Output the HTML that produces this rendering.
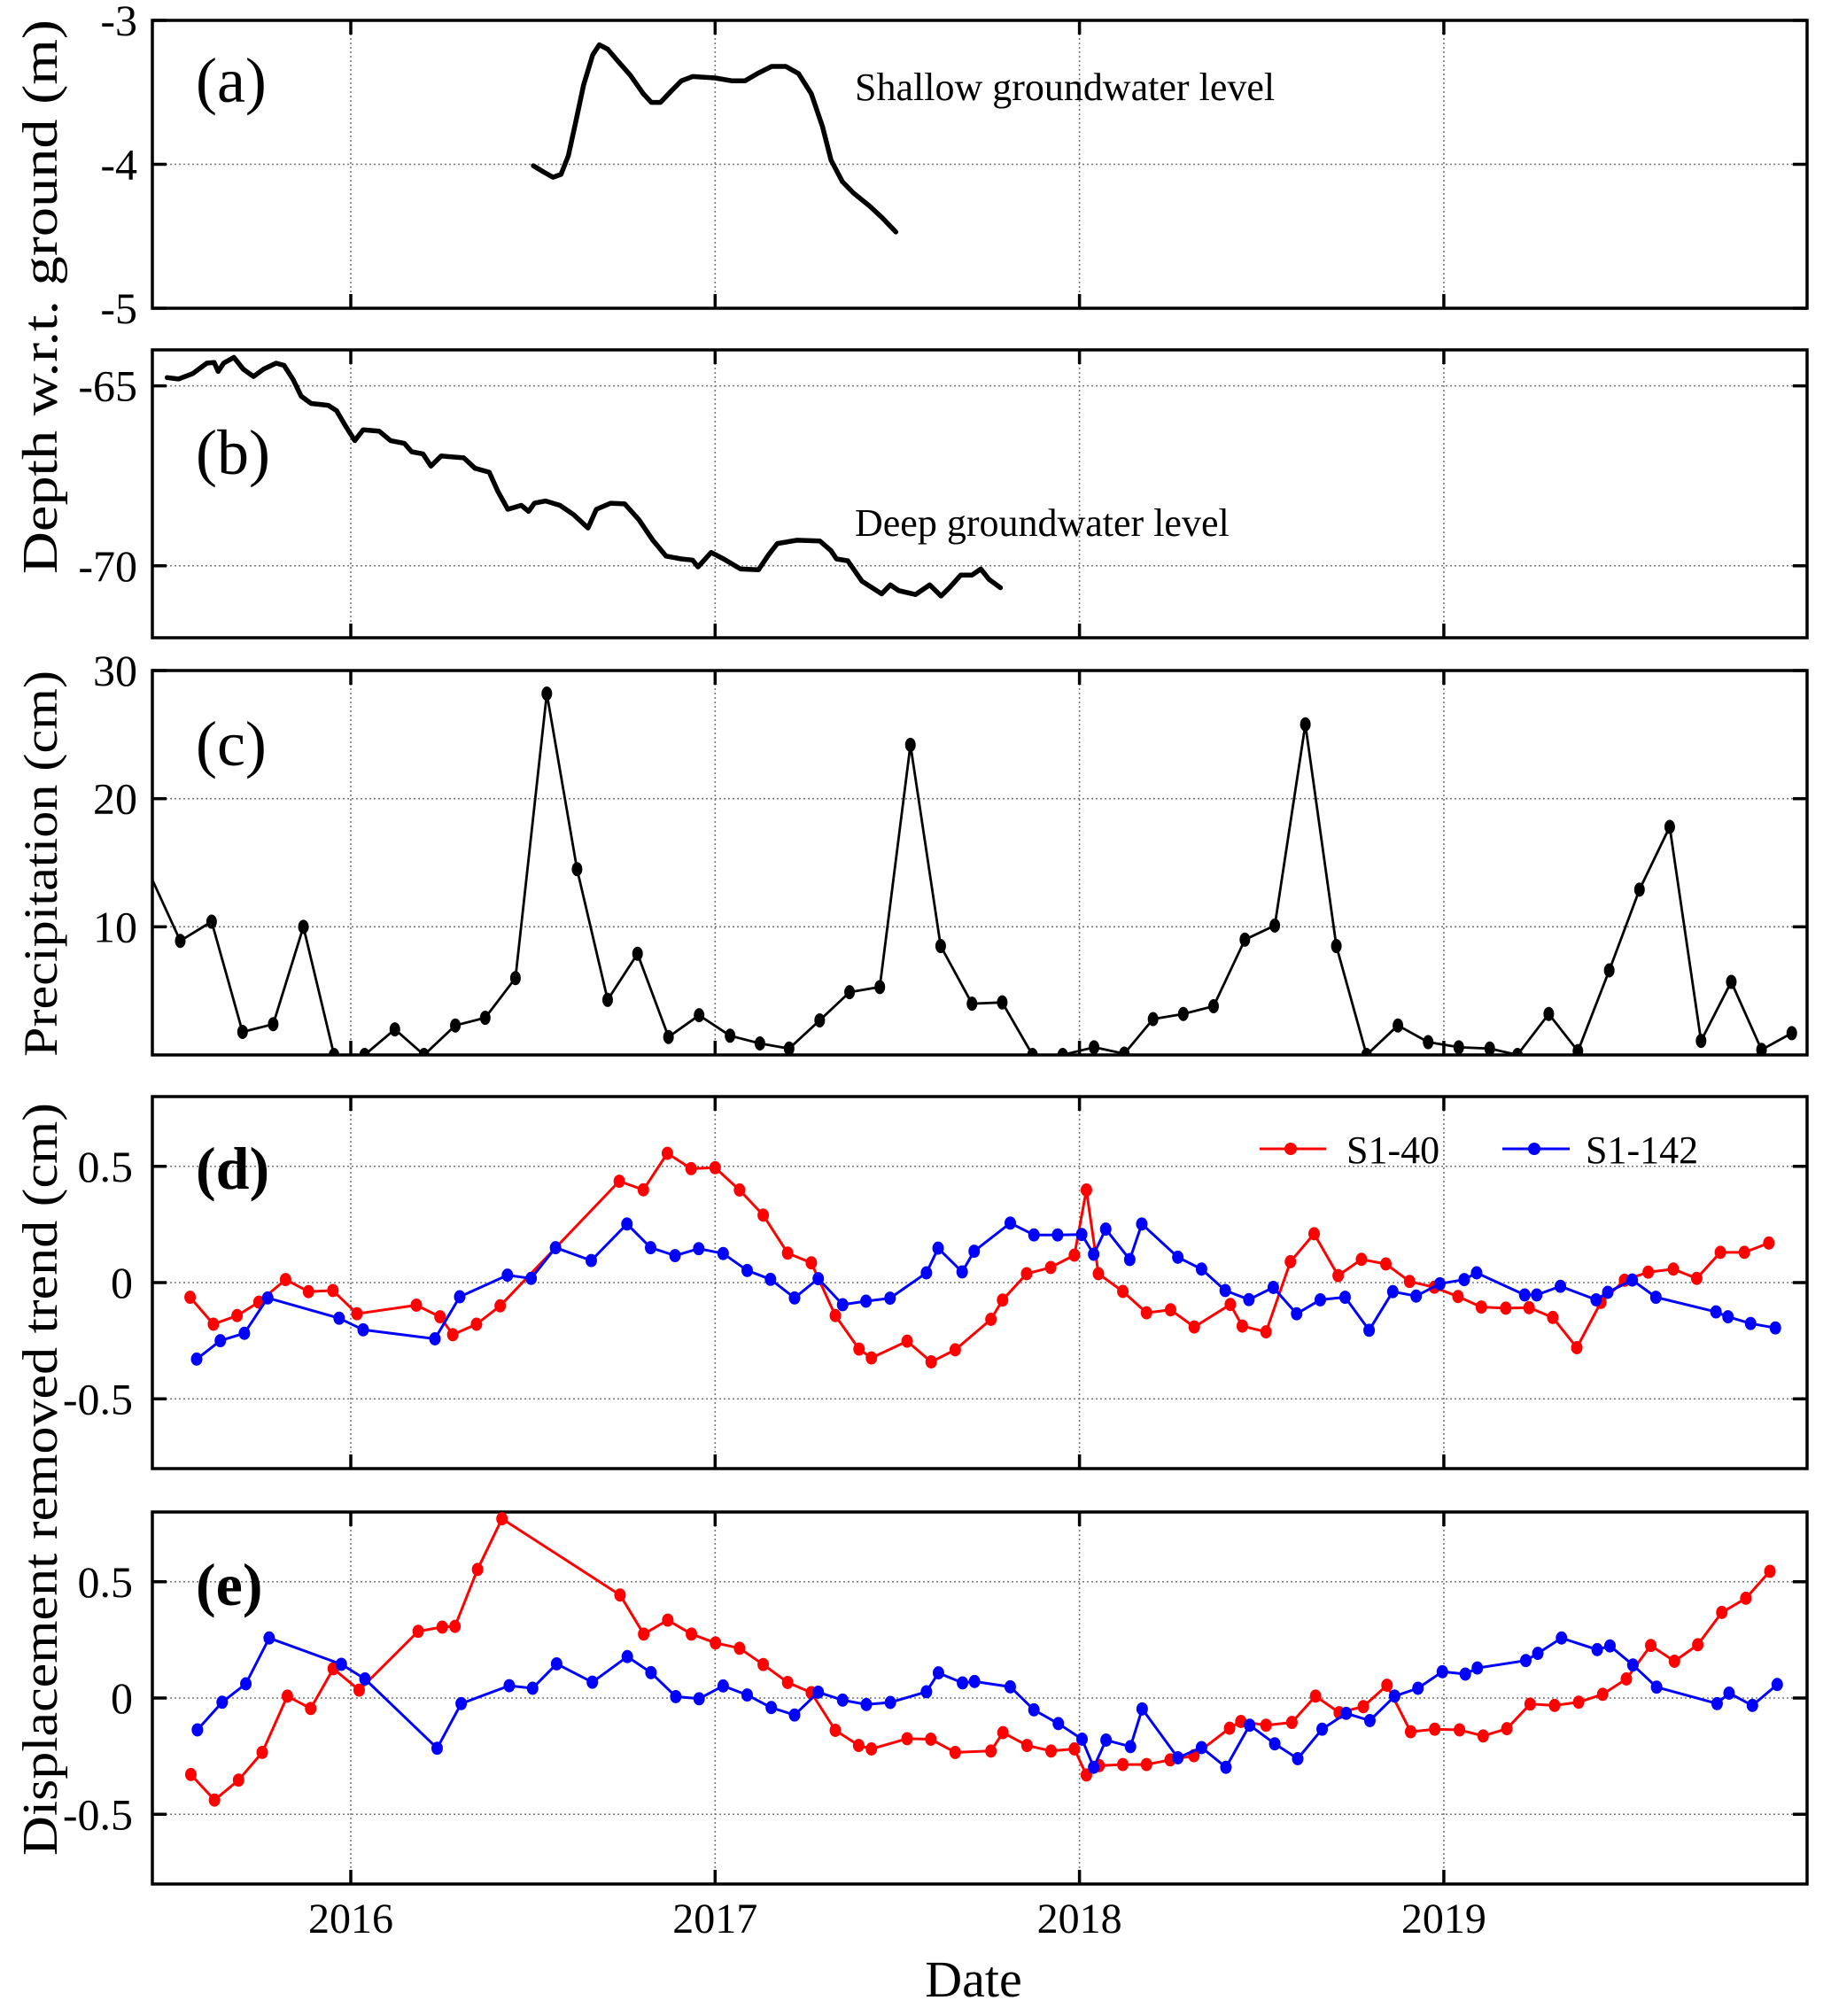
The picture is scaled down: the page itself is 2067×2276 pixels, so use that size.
<!DOCTYPE html>
<html><head><meta charset="utf-8"><style>
html,body{margin:0;padding:0;background:#fff}
svg{display:block}
text{font-family:"Liberation Serif",serif;fill:#000}
</style></head><body>
<svg id="fig" width="2067" height="2276" viewBox="0 0 2067 2276" xmlns="http://www.w3.org/2000/svg"></svg>
<script>
// ---------- data ----------
const shallowDates=[2016.501,2016.527,2016.555,2016.577,2016.597,2016.617,2016.639,2016.664,2016.682,2016.705,2016.732,2016.767,2016.803,2016.825,2016.850,2016.876,2016.907,2016.938,2017.000,2017.047,2017.082,2017.116,2017.155,2017.194,2017.229,2017.264,2017.295,2017.318,2017.349,2017.380,2017.424,2017.458,2017.496];
const shallowLevel=[-4.01,-4.05,-4.09,-4.07,-3.94,-3.71,-3.45,-3.24,-3.17,-3.20,-3.28,-3.38,-3.51,-3.57,-3.57,-3.50,-3.42,-3.39,-3.40,-3.42,-3.42,-3.37,-3.32,-3.32,-3.37,-3.51,-3.74,-3.97,-4.12,-4.20,-4.29,-4.37,-4.47];
const deepDates=[2015.496,2015.527,2015.566,2015.605,2015.625,2015.636,2015.651,2015.679,2015.705,2015.733,2015.760,2015.795,2015.817,2015.842,2015.864,2015.891,2015.938,2015.961,2015.984,2016.011,2016.034,2016.078,2016.109,2016.147,2016.167,2016.198,2016.220,2016.248,2016.310,2016.341,2016.380,2016.403,2016.431,2016.468,2016.488,2016.504,2016.535,2016.574,2016.612,2016.651,2016.674,2016.713,2016.752,2016.791,2016.829,2016.865,2016.907,2016.938,2016.953,2016.989,2017.023,2017.070,2017.119,2017.147,2017.171,2017.225,2017.287,2017.318,2017.333,2017.364,2017.403,2017.457,2017.481,2017.504,2017.550,2017.589,2017.620,2017.643,2017.674,2017.705,2017.729,2017.752,2017.783];
const deepLevel=[-64.77,-64.81,-64.66,-64.37,-64.35,-64.60,-64.37,-64.21,-64.54,-64.74,-64.54,-64.37,-64.43,-64.83,-65.29,-65.49,-65.54,-65.69,-66.09,-66.52,-66.22,-66.26,-66.52,-66.60,-66.83,-66.89,-67.23,-66.95,-67.00,-67.29,-67.40,-67.92,-68.43,-68.32,-68.49,-68.26,-68.20,-68.32,-68.58,-68.95,-68.43,-68.26,-68.28,-68.72,-69.29,-69.73,-69.81,-69.84,-70.03,-69.63,-69.81,-70.09,-70.11,-69.69,-69.38,-69.29,-69.31,-69.58,-69.81,-69.86,-70.43,-70.78,-70.53,-70.69,-70.80,-70.53,-70.84,-70.61,-70.26,-70.26,-70.09,-70.38,-70.61];
const precipDates=[2015.45,2015.532,2015.618,2015.703,2015.787,2015.870,2015.954,2016.038,2016.121,2016.201,2016.287,2016.369,2016.452,2016.538,2016.621,2016.705,2016.787,2016.872,2016.956,2017.041,2017.123,2017.203,2017.287,2017.369,2017.452,2017.536,2017.619,2017.705,2017.788,2017.871,2017.954,2018.040,2018.123,2018.202,2018.285,2018.368,2018.454,2018.536,2018.620,2018.705,2018.788,2018.874,2018.957,2019.041,2019.126,2019.202,2019.288,2019.368,2019.454,2019.537,2019.620,2019.706,2019.789,2019.872,2019.955];
const precipValues=[14.0,8.9,10.4,1.8,2.4,10.0,0,0,2.0,0,2.3,2.9,6.0,28.2,14.5,4.3,7.9,1.4,3.1,1.5,0.9,0.5,2.7,4.9,5.3,24.2,8.5,4.0,4.1,0,0,0.6,0.1,2.8,3.2,3.8,9.0,10.1,25.8,8.5,0,2.3,1.0,0.6,0.5,0,3.2,0.3,6.6,12.9,17.8,1.1,5.7,0.4,1.7];
const dRedDates=[2015.559,2015.623,2015.688,2015.748,2015.821,2015.884,2015.951,2016.017,2016.180,2016.245,2016.280,2016.345,2016.410,2016.737,2016.803,2016.869,2016.934,2017.000,2017.067,2017.132,2017.199,2017.264,2017.330,2017.395,2017.429,2017.527,2017.593,2017.659,2017.757,2017.789,2017.855,2017.921,2017.986,2018.019,2018.052,2018.119,2018.184,2018.250,2018.315,2018.414,2018.447,2018.512,2018.579,2018.644,2018.710,2018.774,2018.841,2018.906,2018.974,2019.039,2019.103,2019.170,2019.234,2019.299,2019.365,2019.431,2019.496,2019.561,2019.630,2019.694,2019.759,2019.825,2019.892];
const dRedValues=[-0.063,-0.179,-0.142,-0.084,0.013,-0.039,-0.034,-0.134,-0.097,-0.147,-0.224,-0.179,-0.100,0.436,0.399,0.556,0.490,0.494,0.398,0.290,0.127,0.085,-0.142,-0.286,-0.324,-0.252,-0.341,-0.289,-0.158,-0.075,0.038,0.065,0.118,0.398,0.038,-0.038,-0.130,-0.117,-0.191,-0.094,-0.187,-0.212,0.09,0.21,0.03,0.10,0.08,0.005,-0.02,-0.06,-0.105,-0.11,-0.108,-0.15,-0.28,-0.085,0.01,0.045,0.058,0.018,0.13,0.13,0.17];
const dBlueDates=[2015.577,2015.642,2015.708,2015.772,2015.968,2016.034,2016.231,2016.299,2016.430,2016.495,2016.562,2016.660,2016.758,2016.823,2016.890,2016.955,2017.022,2017.088,2017.152,2017.218,2017.283,2017.350,2017.414,2017.480,2017.580,2017.612,2017.678,2017.711,2017.810,2017.875,2017.940,2018.006,2018.039,2018.072,2018.138,2018.171,2018.270,2018.335,2018.400,2018.465,2018.532,2018.596,2018.661,2018.729,2018.795,2018.860,2018.924,2018.989,2019.056,2019.090,2019.222,2019.255,2019.320,2019.418,2019.450,2019.517,2019.582,2019.747,2019.780,2019.842,2019.910];
const dBlueValues=[-0.329,-0.250,-0.218,-0.066,-0.153,-0.203,-0.242,-0.061,0.032,0.018,0.150,0.095,0.252,0.150,0.116,0.146,0.125,0.052,0.014,-0.066,0.017,-0.095,-0.080,-0.067,0.042,0.148,0.046,0.135,0.256,0.205,0.205,0.207,0.122,0.230,0.099,0.252,0.109,0.058,-0.034,-0.073,-0.021,-0.134,-0.074,-0.063,-0.205,-0.039,-0.058,-0.005,0.013,0.042,-0.053,-0.053,-0.016,-0.074,-0.042,0.011,-0.063,-0.126,-0.147,-0.176,-0.195];
const eRedDates=[2015.561,2015.626,2015.692,2015.757,2015.826,2015.890,2015.952,2016.023,2016.185,2016.251,2016.286,2016.348,2016.415,2016.739,2016.804,2016.870,2016.935,2017.001,2017.067,2017.132,2017.199,2017.264,2017.330,2017.394,2017.429,2017.527,2017.592,2017.659,2017.757,2017.790,2017.856,2017.922,2017.986,2018.019,2018.054,2018.119,2018.184,2018.249,2018.314,2018.412,2018.443,2018.512,2018.583,2018.648,2018.713,2018.779,2018.844,2018.909,2018.975,2019.043,2019.108,2019.173,2019.237,2019.304,2019.370,2019.436,2019.501,2019.568,2019.633,2019.697,2019.763,2019.829,2019.895];
const eRedValues=[-0.329,-0.439,-0.353,-0.234,0.008,-0.045,0.126,0.034,0.287,0.305,0.308,0.553,0.771,0.443,0.275,0.335,0.275,0.237,0.214,0.144,0.067,0.023,-0.139,-0.204,-0.219,-0.175,-0.177,-0.234,-0.228,-0.149,-0.204,-0.228,-0.219,-0.331,-0.291,-0.286,-0.286,-0.266,-0.248,-0.130,-0.101,-0.117,-0.105,0.008,-0.063,-0.037,0.055,-0.145,-0.134,-0.137,-0.163,-0.132,-0.026,-0.032,-0.018,0.016,0.082,0.226,0.158,0.229,0.368,0.429,0.545];
const eBlueDates=[2015.579,2015.647,2015.712,2015.776,2015.974,2016.039,2016.237,2016.303,2016.435,2016.499,2016.565,2016.663,2016.759,2016.824,2016.892,2016.956,2017.022,2017.088,2017.154,2017.218,2017.283,2017.350,2017.415,2017.481,2017.580,2017.613,2017.679,2017.712,2017.810,2017.875,2017.942,2018.007,2018.039,2018.073,2018.140,2018.172,2018.270,2018.335,2018.402,2018.467,2018.536,2018.599,2018.666,2018.732,2018.797,2018.865,2018.929,2018.996,2019.059,2019.092,2019.225,2019.258,2019.323,2019.421,2019.456,2019.519,2019.584,2019.750,2019.783,2019.847,2019.915];
const eBlueValues=[-0.137,-0.018,0.061,0.258,0.145,0.082,-0.216,-0.024,0.053,0.042,0.147,0.068,0.178,0.109,0.006,-0.003,0.052,0.013,-0.041,-0.073,0.025,-0.009,-0.028,-0.019,0.027,0.108,0.065,0.071,0.048,-0.051,-0.110,-0.177,-0.298,-0.181,-0.209,-0.047,-0.257,-0.213,-0.298,-0.117,-0.197,-0.261,-0.134,-0.066,-0.097,0.008,0.042,0.113,0.103,0.129,0.161,0.192,0.258,0.208,0.224,0.142,0.047,-0.024,0.021,-0.032,0.058];
const yearTicks=[2016,2017,2018,2019];
const yearLabels=["2016","2017","2018","2019"];
const aTicks=[-3,-4,-5], aTickLabels=["-3","-4","-5"];
const bTicks=[-65,-70], bTickLabels=["-65","-70"];
const cTicks=[30,20,10], cTickLabels=["30","20","10"];
const dTicks=[0.5,0,-0.5], dTickLabels=["0.5","0","-0.5"];

// ---------- layout ----------
const NS="http://www.w3.org/2000/svg";
const svg=document.getElementById('fig');
const X0=172,X1=2040,D0=2015.4554,D1=2019.997;
function xs(d){return X0+(d-D0)/(D1-D0)*(X1-X0);}
function mk(tag,attrs,parent){const e=document.createElementNS(NS,tag);for(const k in attrs)e.setAttribute(k,attrs[k]);(parent||svg).appendChild(e);return e;}
let clipN=0;
function panel(name,top,bot,ymin,ymax,ticks,labels,gridVals,labelX){
  const g=mk('g',{});
  
  
  const ys=v=>bot-(v-ymin)/(ymax-ymin)*(bot-top);
  yearTicks.forEach(yr=>{const l=mk('line',{x1:xs(yr),x2:xs(yr),y1:top,y2:bot,stroke:'#777','stroke-width':1.6,'stroke-dasharray':'2,3'},g);
    });
  gridVals.forEach(v=>{const l=mk('line',{x1:X0,x2:X1,y1:ys(v),y2:ys(v),stroke:'#777','stroke-width':1.6,'stroke-dasharray':'2,3'},g);
    });
  yearTicks.forEach(yr=>{mk('line',{x1:xs(yr),x2:xs(yr),y1:top,y2:top+16,stroke:'#000','stroke-width':3.5},g);
    mk('line',{x1:xs(yr),x2:xs(yr),y1:bot,y2:bot-16,stroke:'#000','stroke-width':3.5},g);});
  ticks.forEach((v,i)=>{const y=ys(v);
    mk('line',{x1:X0,x2:X0+16,y1:y,y2:y,stroke:'#000','stroke-width':3.5},g);
    mk('line',{x1:X1,x2:X1-16,y1:y,y2:y,stroke:'#000','stroke-width':3.5},g);
    const t=mk('text',{x:labelX,y:y+17,'text-anchor':'end','font-size':50},g);
    
    t.textContent=labels[i];});
  const f=mk('rect',{x:X0,y:top,width:X1-X0,height:bot-top,fill:'none',stroke:'#000','stroke-width':3.5},g);
  
  clipN++;
  const cp=mk('clipPath',{id:'cp'+clipN},g);mk('rect',{x:X0,y:top,width:X1-X0,height:bot-top},cp);
  const inner=mk('g',{'clip-path':'url(#cp'+clipN+')'},g);
  return {g,inner,ys};
}
function series(p,dates,vals,color,lw,r,name,withMarkers){
  const pts=dates.map((d,i)=>xs(d).toFixed(1)+','+p.ys(vals[i]).toFixed(1)).join(' ');
  const pl=mk('polyline',{points:pts,fill:'none',stroke:color,'stroke-width':lw,'stroke-linejoin':'round','stroke-linecap':'round'},p.inner);
  
  
  if(withMarkers){dates.forEach((d,i)=>{
    const c=mk('ellipse',{cx:xs(d),cy:p.ys(vals[i]),rx:r,ry:r*1.15,fill:color},p.inner);
    
    });}
}
function label(txt,x,y,size,bold,name){const t=mk('text',{x:x,y:y,'font-size':size,'font-weight':bold?'bold':'normal'});
  t.textContent=txt;return t;}

const pa=panel('panel-a-shallow',23,348,-5,-3,aTicks,aTickLabels,[-4],155);
series(pa,shallowDates,shallowLevel,'#000',5.5,0,'shallow-groundwater',false);
const pb=panel('panel-b-deep',395,720,-72,-64,bTicks,bTickLabels,[-65,-70],155);
series(pb,deepDates,deepLevel,'#000',5.5,0,'deep-groundwater',false);
const pc=panel('panel-c-precip',757,1191,0,30,cTicks,cTickLabels,[10,20],155);
series(pc,precipDates,precipValues,'#000',2.8,0,'precipitation',false);
precipDates.forEach((d,i)=>{if(i===0)return;
  const c=mk('ellipse',{cx:xs(d),cy:pc.ys(precipValues[i]),rx:6,ry:8,fill:'#000'},pc.inner);
  
  });
const pd=panel('panel-d-displacement',1238,1658,-0.8,0.8,dTicks,dTickLabels,[0.5,0,-0.5],150);
series(pd,dRedDates,dRedValues,'#f00',3,6.5,'d-s1-40',true);
series(pd,dBlueDates,dBlueValues,'#00f',3,6.5,'d-s1-142',true);
const pe=panel('panel-e-displacement',1707,2127,-0.8,0.8,dTicks,dTickLabels,[0.5,0,-0.5],150);
series(pe,eRedDates,eRedValues,'#f00',3,6.5,'e-s1-40',true);
series(pe,eBlueDates,eBlueValues,'#00f',3,6.5,'e-s1-142',true);

// legend
const lg=mk('g',{});


mk('line',{x1:1422,x2:1497,y1:1297,y2:1297,stroke:'#f00','stroke-width':3},lg);
mk('circle',{cx:1457,cy:1297,r:7,fill:'#f00'},lg);
const l1=mk('text',{x:1520,y:1313,'font-size':44},lg);l1.textContent='S1-40';

mk('line',{x1:1696,x2:1772,y1:1297,y2:1297,stroke:'#00f','stroke-width':3},lg);
mk('circle',{cx:1732,cy:1297,r:7,fill:'#00f'},lg);
const l2=mk('text',{x:1790,y:1313,'font-size':44},lg);l2.textContent='S1-142';


// panel labels / annotations
label('(a)',221,115,72,false,'panel-label-a');
label('(b)',221,535,72,false,'panel-label-b');
label('(c)',221,864,72,false,'panel-label-c');
label('(d)',221,1342,68,true,'panel-label-d');
label('(e)',221,1812,68,true,'panel-label-e');
label('Shallow groundwater level',965,113,44,false,'shallow-annotation');
label('Deep groundwater level',965,605,44,false,'deep-annotation');

// x tick labels
yearTicks.forEach((yr,i)=>{const t=mk('text',{x:xs(yr),y:2182,'text-anchor':'middle','font-size':48});
  t.textContent=yearLabels[i];});
const xt=label('Date',1099,2254,58,false,'x-axis-title');xt.setAttribute('text-anchor','middle');

// y titles
function ytitle(txt,cy,len,size,name){const t=mk('text',{x:0,y:0,'text-anchor':'middle','font-size':size,
  transform:'translate(64,'+cy+') rotate(-90)',textLength:len,lengthAdjust:'spacingAndGlyphs'});
  t.textContent=txt;}
ytitle('Depth w.r.t. ground (m)',335,626,56,'y-axis-title-depth');
ytitle('Precipitation (cm)',975,436,54,'y-axis-title-precipitation');
ytitle('Displacement removed trend (cm)',1670,850,56,'y-axis-title-displacement');
</script>
</body></html>
